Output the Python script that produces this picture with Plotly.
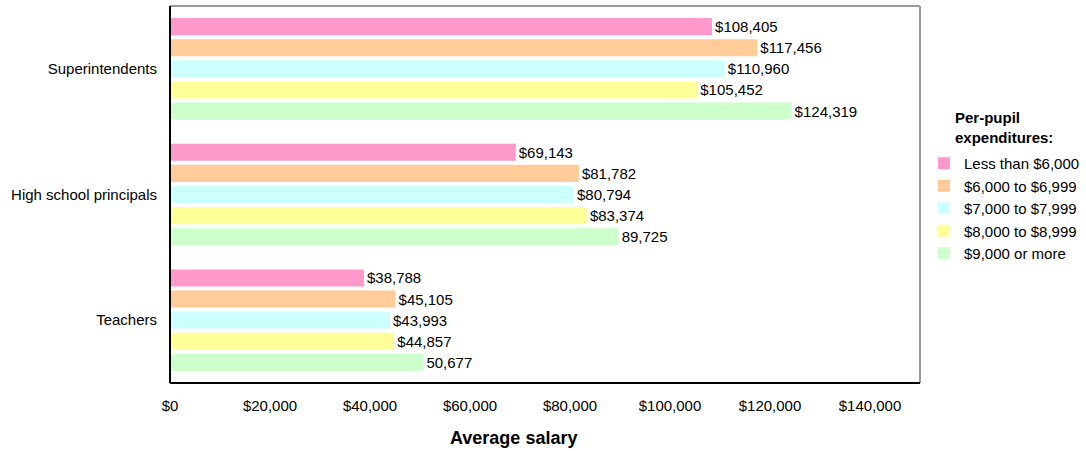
import plotly.graph_objects as go

categories = ["Superintendents", "High school principals", "Teachers"]
series_names = ["Less than $6,000", "$6,000 to $6,999", "$7,000 to $7,999",
                "$8,000 to $8,999", "$9,000 or more"]
less_6000 = [108405, 69143, 38788]
s6000_6999 = [117456, 81782, 45105]
s7000_7999 = [110960, 80794, 43993]
s8000_8999 = [105452, 83374, 44857]
s9000_more = [124319, 89725, 50677]
labels = [
    ["$108,405", "$69,143", "$38,788"],
    ["$117,456", "$81,782", "$45,105"],
    ["$110,960", "$80,794", "$43,993"],
    ["$105,452", "$83,374", "$44,857"],
    ["$124,319", "89,725", "50,677"],
]
tick_vals = [0, 20000, 40000, 60000, 80000, 100000, 120000, 140000]
tick_text = ["$0", "$20,000", "$40,000", "$60,000", "$80,000",
             "$100,000", "$120,000", "$140,000"]
colors = ["#FF99CC", "#FFCC99", "#CCFFFF", "#FFFF99", "#CCFFCC"]

values = [less_6000, s6000_6999, s7000_7999, s8000_8999, s9000_more]

FONT = "Liberation Sans, Arial, sans-serif"
W, H = 1086, 451
L, R, T, B = 170, 166, 6, 68
PW, PH = W - L - R, H - T - B


def px_x(p):
    return (p - L) / PW


def px_y(p):
    return (H - B - p) / PH


fig = go.Figure()
for name, vals, lab, col in zip(series_names, values, labels, colors):
    fig.add_trace(go.Bar(
        y=categories, x=vals, name=name, orientation="h",
        marker=dict(color=col, line=dict(width=0)),
        text=lab, textposition="outside", cliponaxis=False,
        textfont=dict(size=15, color="#000000", family=FONT),
    ))

fig.update_layout(
    width=W, height=H,
    margin=dict(l=L, r=R, t=T, b=B, autoexpand=False),
    paper_bgcolor="white", plot_bgcolor="white",
    barmode="group", bargap=0.16, bargroupgap=0.19,
    font=dict(family=FONT, size=15, color="#000000"),
    showlegend=True,
    legend=dict(
        x=px_x(924), xanchor="left", y=px_y(147), yanchor="top",
        font=dict(size=15), itemwidth=30, tracegroupgap=0,
        traceorder="normal", bgcolor="rgba(0,0,0,0)",
    ),
    xaxis=dict(
        range=[0, 150000], tickvals=tick_vals, ticktext=tick_text,
        showgrid=False, zeroline=False, showline=False, ticks="",
        ticklabelstandoff=12, tickfont=dict(size=15),
    ),
    yaxis=dict(
        categoryorder="array", categoryarray=categories, autorange="reversed",
        showgrid=False, zeroline=False, showline=False, ticks="",
        ticklabelstandoff=12, tickfont=dict(size=15),
    ),
    annotations=[
        dict(text="<b>Average salary</b>", x=px_x(513), xref="paper",
             y=px_y(438), yref="paper", xanchor="center", yanchor="middle",
             showarrow=False, font=dict(size=18)),
        dict(text="<b>Per-pupil<br>expenditures:</b>", x=px_x(953), xref="paper",
             y=px_y(127), yref="paper", xanchor="left", yanchor="middle",
             align="left", showarrow=False, font=dict(size=15)),
    ],
)

# frame: top/right gray, left/bottom black
fig.add_shape(type="line", xref="paper", yref="paper", x0=0, x1=1, y0=1, y1=1,
              line=dict(color="#999999", width=2))
fig.add_shape(type="line", xref="paper", yref="paper", x0=1, x1=1, y0=0, y1=1,
              line=dict(color="#999999", width=2))
fig.add_shape(type="line", xref="paper", yref="paper", x0=0, x1=1, y0=0, y1=0,
              line=dict(color="#000000", width=2))
fig.add_shape(type="line", xref="paper", yref="paper", x0=0, x1=0, y0=0, y1=1,
              line=dict(color="#000000", width=2))

fig.write_html("out.html")
